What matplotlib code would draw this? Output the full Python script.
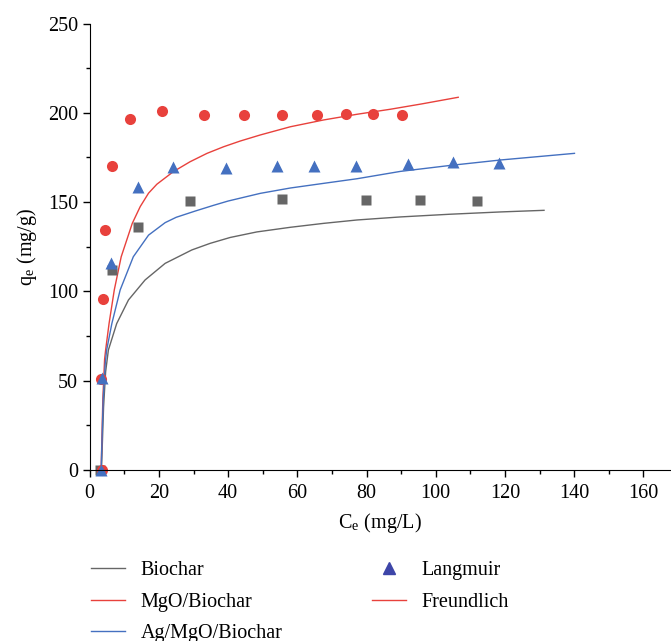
import numpy as np
import matplotlib
matplotlib.use("Agg")
import matplotlib.pyplot as plt
from matplotlib.lines import Line2D
from matplotlib.ticker import MultipleLocator

plt.rcParams['font.family'] = ['Liberation Serif', 'DejaVu Serif']
plt.rcParams['mathtext.fontset'] = 'stix'

# measured points
bio_x = [3.0, 6.4, 14.1, 29.0, 55.5, 79.9, 95.4, 111.8]
bio_y = [0, 112, 136, 150.6, 151.7, 151.2, 151.0, 150.6]

mgo_x = [3.5, 3.3, 3.7, 4.5, 6.5, 11.7, 21.0, 33.0, 44.7, 55.7, 65.6, 74.0, 81.8, 90.2]
mgo_y = [0, 51, 96, 134.5, 170, 196.5, 201, 199, 199, 199, 199, 199.5, 199.5, 199]

ag_x = [3.3, 3.5, 6.1, 13.9, 24.0, 39.5, 54.1, 64.7, 76.9, 92.0, 105.1, 118.2]
ag_y = [0, 51.5, 116, 158.6, 169.5, 169.3, 170.2, 170.2, 170.2, 171.3, 172.6, 172.0]

# fitted curves
fit_bio_x = [3.4, 4.0, 4.6, 5.4, 7.8, 11.2, 16.0, 21.8, 29.5, 34.8, 40.6, 48.3, 58.0,
             67.6, 77.3, 89.8, 104.0, 118.8, 131.3]
fit_bio_y = [0, 35, 55, 67.2, 82.0, 95.2, 106.4, 115.7, 123.2, 126.9, 130.2, 133.3,
             135.9, 138.1, 140.0, 141.7, 143.2, 144.5, 145.4]

fit_mgo_x = [3.3, 3.8, 4.3, 4.6, 5.6, 7.1, 9.1, 12.3, 14.6, 17.0, 19.4, 24.2, 29.0,
             33.9, 38.7, 43.5, 49.3, 58.0, 67.6, 77.3, 86.9, 96.0, 106.5]
fit_mgo_y = [0, 40, 62, 67.2, 82.1, 100.8, 119.4, 138.1, 147.5, 155.0, 160.0, 167.1,
             172.6, 177.3, 181.0, 184.2, 187.6, 192.2, 196.0, 199.2, 202.0, 205.0, 208.7]

fit_ag_x = [3.3, 3.9, 4.5, 4.9, 6.4, 8.8, 12.6, 17.0, 21.8, 25.0, 30.5, 35.8, 40.0,
            49.3, 58.0, 67.6, 77.3, 89.8, 104.0, 118.8, 140.1]
fit_ag_y = [0, 40, 60, 67.2, 82.0, 100.8, 119.4, 131.5, 138.5, 141.5, 145.0, 148.2,
            150.6, 154.9, 157.9, 160.5, 163.1, 167.2, 170.5, 173.6, 177.3]

c_grey = '#666666'
c_red = '#e8413c'
c_blue = '#4470c0'
fs = 14.5

fig = plt.figure(figsize=(6.71, 6.41), dpi=100)
ax = fig.add_axes([0.1337, 0.2668, 0.8663, 0.6965])

ax.plot(fit_bio_x, fit_bio_y, '-', color=c_grey, lw=1.0)
ax.plot(fit_mgo_x, fit_mgo_y, '-', color=c_red, lw=1.0)
ax.plot(fit_ag_x, fit_ag_y, '-', color=c_blue, lw=1.0)

ax.plot(bio_x, bio_y, 's', color=c_grey, ms=6.5, mec='none')
ax.plot(mgo_x, mgo_y, 'o', color=c_red, ms=8, mec='none')
ax.plot(ag_x, ag_y, '^', color=c_blue, ms=9, mec='none')

ax.set_xlim(0, 168)
ax.set_ylim(0, 250)
ax.xaxis.set_major_locator(MultipleLocator(20))
ax.xaxis.set_minor_locator(MultipleLocator(10))
ax.yaxis.set_major_locator(MultipleLocator(50))
ax.yaxis.set_minor_locator(MultipleLocator(25))
ax.tick_params(which='major', direction='out', length=5, width=1, labelsize=fs)
ax.tick_params(axis='x', pad=5)
ax.tick_params(which='minor', direction='out', length=3, width=1)
for s in ['top', 'right']:
    ax.spines[s].set_visible(False)
for art in ax.lines:
    art.set_clip_on(False)

ax.set_xlabel(r'C$_\mathregular{e}$ (mg/L)', fontsize=fs, labelpad=6)
ax.set_ylabel(r'q$_\mathregular{e}$ (mg/g)', fontsize=fs, labelpad=6)

handles = [
    Line2D([], [], color=c_grey, lw=1.0),
    Line2D([], [], color=c_red, lw=1.0),
    Line2D([], [], color=c_blue, lw=1.0),
    Line2D([], [], color='#3d45a8', marker='^', ls='none', ms=8),
    Line2D([], [], color=c_red, lw=1.0),
]
labels = ['Biochar', 'MgO/Biochar', 'Ag/MgO/Biochar', 'Langmuir', 'Freundlich']
fig.legend(handles, labels, ncol=2, frameon=False, fontsize=fs,
           loc='upper left', bbox_to_anchor=(0.1356, 0.1248),
           handlelength=1.7, handletextpad=0.75, labelspacing=0.62,
           columnspacing=4.45, borderaxespad=0, borderpad=0)

fig.savefig('out.png', dpi=100)
